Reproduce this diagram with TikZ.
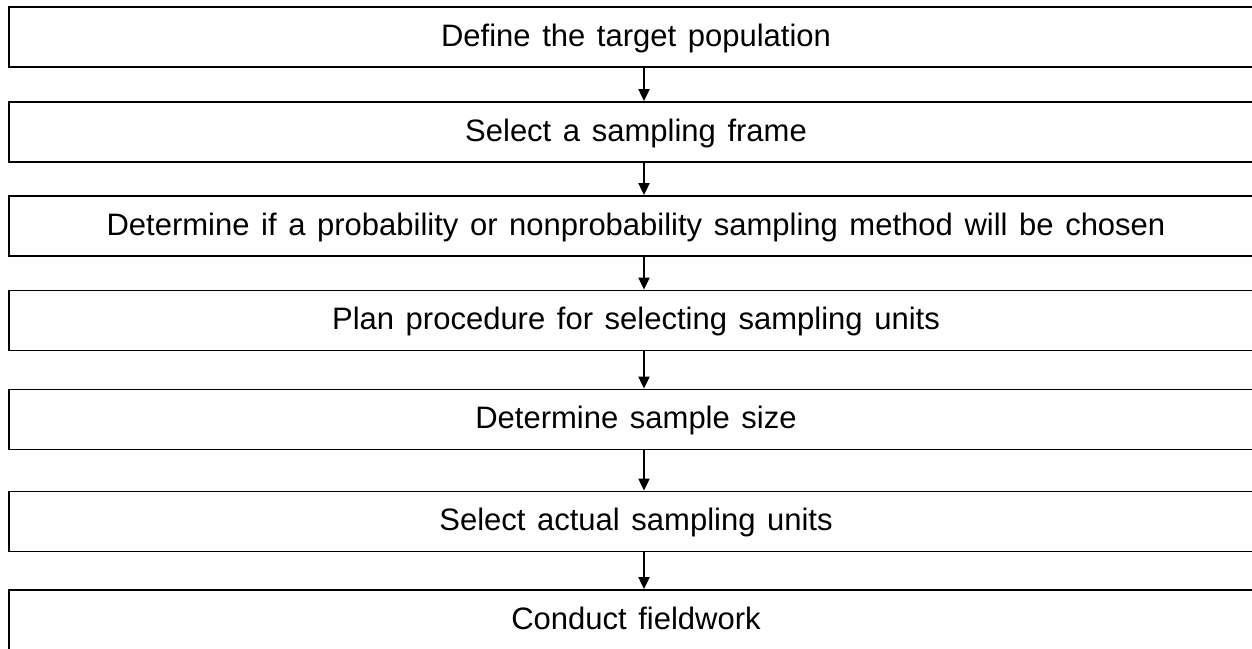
\documentclass[tikz,border=0pt]{standalone}
\usepackage{fontspec}
\setmainfont[WordSpace=1.35]{Liberation Sans}
\usetikzlibrary{arrows.meta}
\begin{document}
\begin{tikzpicture}[x=1pt,y=-1pt,
  stepbox/.style={draw=black, line width=1.8pt, rectangle, minimum width=1254pt,
    minimum height=60pt, inner sep=0pt, font=\fontsize{31}{37}\selectfont,
    text height=23pt, text depth=5pt, anchor=center},
  flow/.style={line width=1.9pt, -{Triangle[width=11pt,length=12pt]}}]
  \useasboundingbox (0,0) rectangle (1252,648);
  \begin{scope}
  \clip (0,0) rectangle (1252,648);
  % the seven steps, top to bottom
  \node[stepbox] (s1) at (636,37)    {Define the target population};
  \node[stepbox] (s2) at (636,132)   {Select a sampling frame};
  \node[stepbox] (s3) at (636,226)   {Determine if a probability or nonprobability sampling method will be chosen};
  \node[stepbox] (s4) at (636,320.5) {Plan procedure for selecting sampling units};
  \node[stepbox] (s5) at (636,419.5) {Determine sample size};
  \node[stepbox] (s6) at (636,521.5) {Select actual sampling units};
  \node[stepbox] (s7) at (636,620)   {Conduct fieldwork};
  % arrows between consecutive steps, set a little right of the box centre
  \foreach \a/\b in {s1/s2, s2/s3, s3/s4, s4/s5, s5/s6, s6/s7}
    \draw[flow] ([xshift=8pt]\a.south) -- ([xshift=8pt]\b.north);
  \end{scope}
\end{tikzpicture}
\end{document}
